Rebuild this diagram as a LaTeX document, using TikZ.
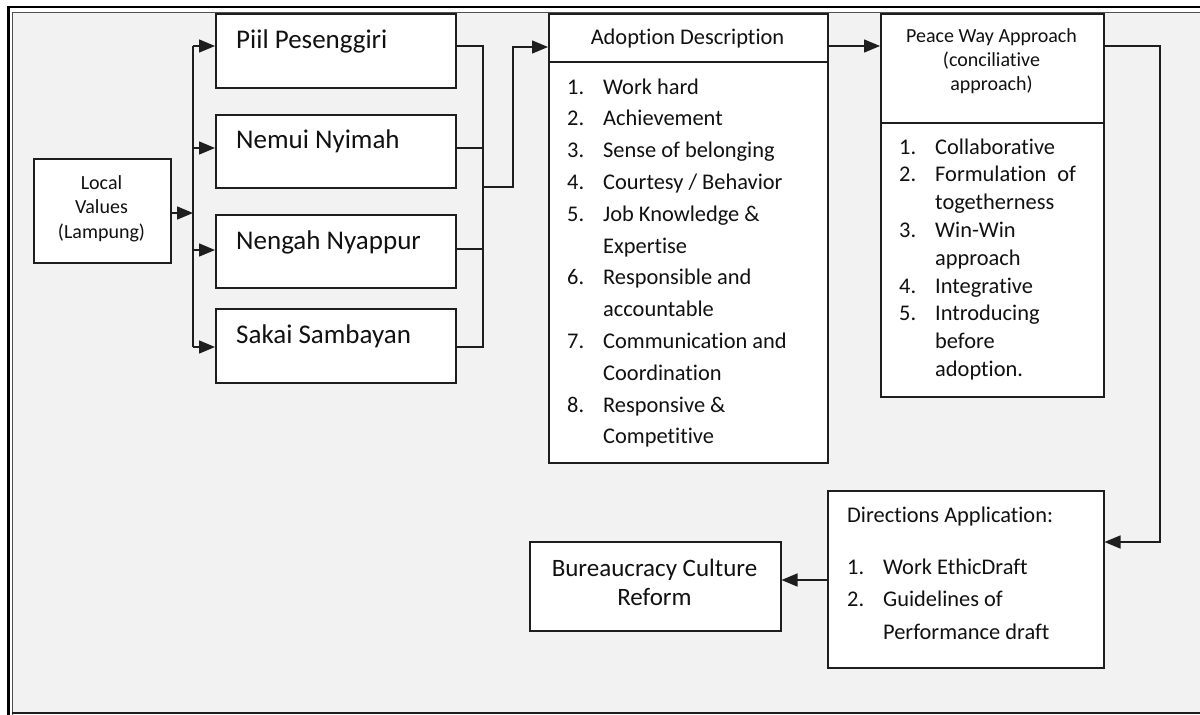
\documentclass[tikz,border=0pt]{standalone}
\usepackage{fontspec}
\setmainfont{Carlito}[RawFeature={-liga;-clig;-rlig;-calt;-dlig}]
\usetikzlibrary{arrows.meta}
\newcommand\tI{t\kern0pt i}
\definecolor{bgc}{HTML}{F2F2F2}
\definecolor{linec}{HTML}{1E1E1E}
\definecolor{txtc}{HTML}{111111}
\definecolor{framec}{HTML}{505050}
\begin{document}
\begin{tikzpicture}[x=1pt,y=-1pt,
  box/.style={draw=linec, line width=1.5pt, fill=white, inner sep=0pt, anchor=north west},
  conn/.style={draw=linec, line width=1.5pt},
  arr/.style={conn, -{Triangle[length=16pt,width=13pt]}},
  txt/.style={inner sep=0pt, anchor=base west, text=txtc},
  ctxt/.style={inner sep=0pt, anchor=base, text=txtc},
  fA/.style={font=\fontsize{20}{24}\selectfont},
  fB/.style={font=\fontsize{27}{32}\selectfont},
  fC/.style={font=\fontsize{22.4}{27}\selectfont},
  fD/.style={font=\fontsize{25}{30}\selectfont},
]
\useasboundingbox (0,0) rectangle (1200,715);
\fill[white] (0,0) rectangle (1200,715);
\fill[bgc] (12,12) rectangle (1200,713);
% frame
\draw[black, line width=2.4pt] (7.5,7) -- (1200,7);
\draw[black, line width=2.6pt] (8.7,5.8) -- (8.7,715);
\draw[framec, line width=1pt] (12,12) -- (1200,12);
\draw[framec, line width=1pt] (12,12) -- (12,715);
\draw[linec, line width=1.6pt] (12,713) -- (1200,713);

% boxes
\node[box, minimum width=137pt, minimum height=104pt] (local) at (33,158) {};
\node[box, minimum width=240pt, minimum height=74pt] (piil) at (215,13) {};
\node[box, minimum width=240pt, minimum height=73pt] (nemui) at (215,114) {};
\node[box, minimum width=240pt, minimum height=73pt] (nengah) at (215,214) {};
\node[box, minimum width=240pt, minimum height=74pt] (sakai) at (215,308) {};
\node[box, minimum width=279pt, minimum height=449pt] (adopt) at (548,13) {};
\node[box, minimum width=223pt, minimum height=383pt] (peace) at (880,13) {};
\node[box, minimum width=276pt, minimum height=177pt] (dir) at (827,490) {};
\node[box, minimum width=251pt, minimum height=89pt] (bur) at (529,541) {};

% dividers
\coordinate (dA) at (600,62);
\draw[conn] (adopt.west |- dA) -- (adopt.east |- dA);
\coordinate (dP) at (900,123);
\draw[conn] (peace.west |- dP) -- (peace.east |- dP);

% local text
\node[ctxt, fA] (tl1) at (101.5,189) {Local};
\node[ctxt, fA] (tl2) at (101.5,213.5) {Values};
\node[ctxt, fA] (tl3) at (101.5,238) {(Lampung)};

% value boxes text
\node[txt, fB] (tp) at (236,48) {Piil Pesenggiri};
\node[txt, fB] (tn) at (236,148) {Nemui Nyimah};
\node[txt, fB] (tg) at (236,249) {Nengah Nyappur};
\node[txt, fB] (ts) at (236,343) {Sakai Sambayan};

% adoption text
\node[ctxt, fC] (ah) at (687.5,44) {Adop\tI on Descrip\tI on};
\node[txt, fC] (an1) at (567,94) {1.};
\node[txt, fC] (at1) at (603,94) {Work hard};
\node[txt, fC] (an2) at (567,125.8) {2.};
\node[txt, fC] (at2) at (603,125.8) {Achievement};
\node[txt, fC] (an3) at (567,157.6) {3.};
\node[txt, fC] (at3) at (603,157.6) {Sense of belonging};
\node[txt, fC] (an4) at (567,189.4) {4.};
\node[txt, fC] (at4) at (603,189.4) {Courtesy / Behavior};
\node[txt, fC] (an5) at (567,221.2) {5.};
\node[txt, fC] (at5) at (603,221.2) {Job Knowledge \&};
\node[txt, fC] (ax5) at (603,253) {Exper\tI se};
\node[txt, fC] (an6) at (567,284.8) {6.};
\node[txt, fC] (at6) at (603,284.8) {Responsible and};
\node[txt, fC] (ax6) at (603,316.6) {accountable};
\node[txt, fC] (an7) at (567,348.4) {7.};
\node[txt, fC] (at7) at (603,348.4) {Communica\tI on and};
\node[txt, fC] (ax7) at (603,380.2) {Coordina\tI on};
\node[txt, fC] (an8) at (567,412) {8.};
\node[txt, fC] (at8) at (603,412) {Responsive \&};
\node[txt, fC] (ax8) at (603,443.8) {Compe\tI\tI ve};

% peace text
\node[ctxt, fA] (ph1) at (991.5,42.5) {Peace Way Approach};
\node[ctxt, fA] (ph2) at (991.5,66.5) {(concilia\tI ve};
\node[ctxt, fA] (ph3) at (991.5,90.5) {approach)};
\node[txt, fC] (pn1) at (899,154) {1.};
\node[txt, fC] (pt1) at (935,154) {Collabora\tI ve};
\node[txt, fC] (pn2) at (899,181.8) {2.};
\node[txt, fC] (pt2) at (935,181.8) {Formula\tI on\hspace{11pt}of};
\node[txt, fC] (px2) at (935,209.6) {togetherness};
\node[txt, fC] (pn3) at (899,237.4) {3.};
\node[txt, fC] (pt3) at (935,237.4) {Win-Win};
\node[txt, fC] (px3) at (935,265.2) {approach};
\node[txt, fC] (pn4) at (899,293) {4.};
\node[txt, fC] (pt4) at (935,293) {Integra\tI ve};
\node[txt, fC] (pn5) at (899,320.8) {5.};
\node[txt, fC] (pt5) at (935,320.8) {Introducing};
\node[txt, fC] (px5) at (935,348.6) {before};
\node[txt, fC] (py5) at (935,376.4) {adop\tI on.};

% directions text
\node[txt, fC] (dh) at (847,522) {Direc\tI ons Applica\tI on:};
\node[txt, fC] (dn1) at (847,574) {1.};
\node[txt, fC] (dt1) at (883,574) {Work EthicDraft};
\node[txt, fC] (dn2) at (847,606.5) {2.};
\node[txt, fC] (dt2) at (883,606.5) {Guidelines of};
\node[txt, fC] (dx2) at (883,639) {Performance draft};

% bureaucracy text
\node[ctxt, fD] (bt1) at (654.5,576) {Bureaucracy Culture};
\node[ctxt, fD] (bt2) at (654.5,605.5) {Reform};

% left spine
\coordinate (sL) at (193,213);
\coordinate (s1) at (193,46);
\coordinate (s2) at (193,148);
\coordinate (s3) at (193,250);
\coordinate (s4) at (193,347);
\draw[arr] (local.east |- sL) -- (sL);
\draw[conn] (s1) -- (s4);
\draw[arr] (s1) -- (s1 -| piil.west);
\draw[arr] (s2) -- (s2 -| nemui.west);
\draw[arr] (s3) -- (s3 -| nengah.west);
\draw[arr] (s4) -- (s4 -| sakai.west);

% right collector
\coordinate (r1) at (483,46);
\coordinate (r2) at (483,148);
\coordinate (r3) at (483,249);
\coordinate (r4) at (483,347);
\coordinate (rO) at (483,187);
\coordinate (k1) at (513,187);
\coordinate (k2) at (513,47);
\draw[conn] (r1 -| piil.east) -- (r1) -- (r4) -- (r4 -| sakai.east);
\draw[conn] (r2 -| nemui.east) -- (r2);
\draw[conn] (r3 -| nengah.east) -- (r3);
\draw[arr] (rO) -- (k1) -- (k2) -- (k2 -| adopt.west);

% adoption -> peace
\coordinate (q1) at (850,46);
\draw[arr] (q1 -| adopt.east) -- (q1 -| peace.west);

% peace -> directions
\coordinate (m1) at (1160,46);
\coordinate (m2) at (1160,542);
\draw[arr] (m1 -| peace.east) -- (m1) -- (m2) -- (m2 -| dir.east);

% directions -> bureaucracy
\coordinate (n1) at (800,580);
\draw[arr] (n1 -| dir.west) -- (n1 -| bur.east);
\end{tikzpicture}
\end{document}
